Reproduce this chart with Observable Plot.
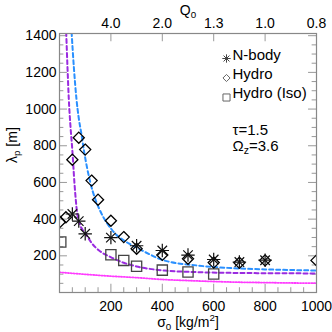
<!DOCTYPE html>
<html><head><meta charset="utf-8">
<script src="https://cdn.jsdelivr.net/npm/d3@7"></script>
<script src="https://cdn.jsdelivr.net/npm/@observablehq/plot@0.6"></script>
<style>html,body{margin:0;padding:0;background:#fff;}</style>
</head><body><div id="chart"></div>
<script>
// ---- data ----
const nbodySigma = [50, 75, 100, 200, 300, 400, 500, 600, 700, 800];
const nbodyLambda = [428, 389, 320, 299, 255, 229, 204, 180, 166, 176];

const hydroSigma = [2, 25, 50, 75, 100, 125, 150, 200, 250, 300, 400, 500, 600, 700, 800, 1000];
const hydroLambda = [385, 410, 724, 844, 779, 610, 506, 391, 302, 239, 205, 184, 163, 162, 175, 175];

const isoSigma = [5, 200, 250, 300, 400, 500, 600];
const isoLambda = [275, 206, 175, 143, 122, 112, 101];

const blueSigma = [47, 56, 66, 75, 85, 95, 118, 141, 160, 206, 271, 297, 407, 538, 668, 800, 1000];
const blueLambda = [1420, 1225, 1055, 950, 866, 775, 611, 502, 440, 338, 266, 247, 175, 147, 133, 126, 120];

const purpleSigma = [26, 31, 36, 43, 50, 58, 69, 80, 102, 125, 154, 199, 250, 300, 407, 538, 668, 1000];
const purpleLambda = [1420, 1230, 1060, 900, 775, 600, 430, 370, 320, 270, 229, 193, 162, 142, 120, 111, 107, 104];

const magentaSigma = [0, 100, 200, 300, 400, 500, 600, 700, 800, 900, 1000];
const magentaLambda = [110, 99, 89, 81, 71, 65, 60, 56, 54, 52, 51];

const xMajor = [200, 400, 600, 800, 1000];
const xMinor = [50, 100, 150, 250, 300, 350, 450, 500, 550, 650, 700, 750, 850, 900, 950];
const qLabels = ["4.0", "2.0", "1.3", "1.0", "0.8"];
const yMajor = [200, 400, 600, 800, 1000, 1200, 1400];
const yMinor = [50, 100, 150, 250, 300, 350, 450, 500, 550, 650, 700, 750, 850, 900, 950, 1050, 1100, 1150, 1250, 1300, 1350];

const legendNames = ["N-body", "Hydro", "Hydro (Iso)"];
const annotations = ["τ=1.5", "Ω_{z}=3.6"];

const pts = (xs, ys) => xs.map((x, i) => ({x, y: ys[i]}));
const nbody = pts(nbodySigma, nbodyLambda);
const hydro = pts(hydroSigma, hydroLambda);
const iso = pts(isoSigma, isoLambda);
const blue = pts(blueSigma, blueLambda);
const purple = pts(purpleSigma, purpleLambda);
const magenta = pts(magentaSigma, magentaLambda);

const tickColor = "#999";
const font = "Liberation Sans, Arial, Helvetica, sans-serif";

const chart = Plot.plot({
  width: 332, height: 332,
  marginLeft: 59, marginRight: 16, marginTop: 33, marginBottom: 40,
  x: {domain: [0, 1000]},
  y: {domain: [0, 1412]},
  style: {fontFamily: font, fontSize: "14px", color: "black", background: "white", overflow: "visible"},
  marks: [
    // inward ticks
    Plot.ruleX(xMajor, {x: d => d, y1: 0, y2: 45, stroke: tickColor}),
    Plot.ruleX(xMinor, {x: d => d, y1: 0, y2: 26, stroke: tickColor}),
    Plot.ruleX(xMajor, {x: d => d, y1: 1412, y2: 1367, stroke: tickColor}),
    Plot.ruleY(yMajor, {y: d => d, x1: 0, x2: 31, stroke: tickColor}),
    Plot.ruleY(yMinor, {y: d => d, x1: 0, x2: 17, stroke: tickColor}),
    Plot.ruleY(yMajor, {y: d => d, x1: 1000, x2: 969, stroke: tickColor}),
    Plot.ruleY(yMinor, {y: d => d, x1: 1000, x2: 983, stroke: tickColor}),
    // axes labels
    Plot.axisX({anchor: "bottom", ticks: xMajor, tickSize: 0, tickPadding: 9, label: null, fontSize: 14,
      tickFormat: d => String(d)}),
    Plot.axisX({anchor: "top", ticks: xMajor, tickSize: 0, tickPadding: 6, label: null, fontSize: 14,
      tickFormat: d => qLabels[xMajor.indexOf(d)]}),
    Plot.axisY({anchor: "left", ticks: yMajor, tickSize: 0, tickPadding: 3, label: null, fontSize: 14,
      tickFormat: d => String(d)}),
    // curves
    Plot.line(magenta, {x: "x", y: "y", curve: "monotone-x", stroke: "#ff3cff", strokeWidth: 1.8, strokeDasharray: "1.2,1.6", clip: true}),
    Plot.line(purple, {x: "x", y: "y", curve: "monotone-x", stroke: "#9a2be0", strokeWidth: 2, strokeDasharray: "4,3", clip: true}),
    Plot.line(blue, {x: "x", y: "y", curve: "monotone-x", stroke: "#2a90ff", strokeWidth: 2, strokeDasharray: "4,3", clip: true}),
    // points
    Plot.dot(iso, {x: "x", y: "y", symbol: "square2", r: 6.5, stroke: "#444", strokeWidth: 1.3, fill: "none", clip: true}),
    Plot.dot(hydro, {x: "x", y: "y", symbol: "diamond2", r: 5, stroke: "black", strokeWidth: 1.3, fill: "none", clip: true}),
    Plot.dot(nbody, {x: "x", y: "y", symbol: "plus", r: 4.4, stroke: "#111", strokeWidth: 1.2, clip: true}),
    Plot.dot(nbody, {x: "x", y: "y", symbol: "times", r: 4.4, stroke: "#111", strokeWidth: 1.2, clip: true}),
    // legend
    Plot.dot([0], {frameAnchor: "top-left", dx: 167, dy: 25, symbol: "plus", r: 2.8, stroke: "#444", strokeWidth: 1}),
    Plot.dot([0], {frameAnchor: "top-left", dx: 167, dy: 25, symbol: "times", r: 2.8, stroke: "#444", strokeWidth: 1}),
    Plot.dot([0], {frameAnchor: "top-left", dx: 167, dy: 44.5, symbol: "diamond2", r: 3.2, stroke: "#666", strokeWidth: 1, fill: "none"}),
    Plot.dot([0], {frameAnchor: "top-left", dx: 167, dy: 64, symbol: "square2", r: 4.5, stroke: "#666", strokeWidth: 1, fill: "none"}),
    ...legendNames.map((name, i) => Plot.text([name], {text: d => d, frameAnchor: "top-left", dx: 173, dy: 26 + 19.3 * i,
      lineAnchor: "bottom", textAnchor: "start", fontSize: 15})),
    ...annotations.map((s, i) => Plot.text([s], {text: d => d, frameAnchor: "top-left", dx: 173, dy: 101.5 + 16 * i,
      lineAnchor: "bottom", textAnchor: "start", fontSize: 15})),
    // axis titles
    Plot.text(["σ_{0} [kg/m^{2}]"], {text: d => d, frameAnchor: "bottom", dy: 34, lineAnchor: "bottom", fontSize: 14}),
    Plot.text(["Q_{0}"], {text: d => d, frameAnchor: "top", dy: -19, lineAnchor: "bottom", fontSize: 14}),
    Plot.text(["λ_{p} [m]"], {text: d => d, frameAnchor: "left", dx: -47, rotate: -90, lineAnchor: "middle", fontSize: 14}),
    Plot.frame({stroke: "#888", strokeWidth: 1.2})
  ]
});

function richify(svg) {
  d3.select(svg).selectAll("text").each(function() {
    const s = this.textContent;
    if (!/[_^]\{/.test(s)) return;
    const el = d3.select(this);
    el.text(null);
    const re = /([_^])\{([^}]*)\}/g;
    let last = 0, m, shift = 0;
    const add = (txt, dy, fs) => {
      const t = el.append("tspan").text(txt);
      if (dy) t.attr("dy", dy);
      if (fs) t.attr("font-size", fs);
    };
    while ((m = re.exec(s))) {
      if (m.index > last) { add(s.slice(last, m.index), shift ? -shift : null); shift = 0; }
      const d = m[1] === "_" ? 3 : -6;
      add(m[2], shift ? d - shift : d, "70%");
      shift = d;
      last = re.lastIndex;
    }
    if (last < s.length) add(s.slice(last), shift ? -shift : null);
  });
}
richify(chart);
document.getElementById("chart").appendChild(chart);
</script></body></html>
